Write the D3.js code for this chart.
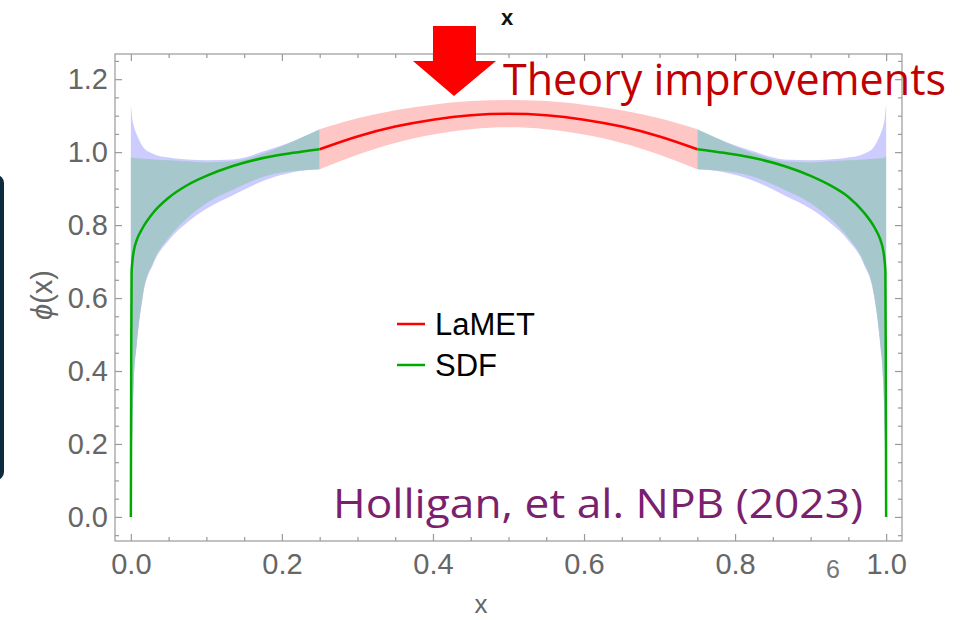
<!DOCTYPE html>
<html><head><meta charset="utf-8">
<script src="https://cdn.jsdelivr.net/npm/d3@7"></script>
<style>html,body{margin:0;padding:0;background:#fff;overflow:hidden}</style>
</head><body>
<svg id="chart" width="960" height="620"></svg>
<script>
// ---------- data ----------
const xTickValues = [0, 0.2, 0.4, 0.6, 0.8, 1.0];
const xTickLabels = ["0.0", "0.2", "0.4", "0.6", "0.8", "1.0"];
const yTickValues = [0, 0.2, 0.4, 0.6, 0.8, 1.0, 1.2];
const yTickLabels = ["0.0", "0.2", "0.4", "0.6", "0.8", "1.0", "1.2"];
const xMinorTicks = [0.05,0.1,0.15,0.25,0.3,0.35,0.45,0.5,0.55,0.65,0.7,0.75,0.85,0.9,0.95];
const yMinorTicks = [-0.05,0.05,0.1,0.15,0.25,0.3,0.35,0.45,0.5,0.55,0.65,0.7,0.75,0.85,0.9,0.95,1.05,1.1,1.15,1.25];

// LaMET (central region)
const lametX  = [0.25, 0.30, 0.35, 0.40, 0.45, 0.50, 0.55, 0.60, 0.65, 0.70, 0.75];
const lametY  = [1.008, 1.043, 1.070, 1.089, 1.101, 1.105, 1.101, 1.089, 1.070, 1.043, 1.008];
const lametHi = [1.063, 1.093, 1.115, 1.130, 1.140, 1.143, 1.140, 1.130, 1.115, 1.093, 1.063];
const lametLo = [0.953, 0.993, 1.025, 1.048, 1.063, 1.068, 1.063, 1.048, 1.025, 0.993, 0.953];

// SDF, left end-point region
const sdfLX = [0, 0.0005, 0.001, 0.002, 0.004, 0.008, 0.015, 0.03, 0.05, 0.075, 0.1, 0.135, 0.18, 0.215, 0.25];
const sdfLY = [0, 0.45, 0.67, 0.70, 0.73, 0.76, 0.79, 0.835, 0.875, 0.91, 0.935, 0.962, 0.986, 0.998, 1.008];
// SDF, right end-point region
const sdfRX = [0.75, 0.785, 0.82, 0.865, 0.9, 0.925, 0.95, 0.97, 0.985, 0.992, 0.996, 0.998, 0.999, 0.9995, 1.0];
const sdfRY = [1.008, 0.998, 0.986, 0.962, 0.935, 0.910, 0.877, 0.836, 0.792, 0.762, 0.732, 0.702, 0.672, 0.45, 0];

// SDF error bands (teal = one estimate, lavender = other)
const bandLX    = [0, 0.002, 0.004, 0.0075, 0.016, 0.03, 0.05, 0.075, 0.1, 0.135, 0.18, 0.215, 0.25];
const tealLHi   = [0.985, 0.985, 0.984, 0.983, 0.982, 0.980, 0.978, 0.975, 0.972, 0.975, 1.000, 1.030, 1.063];
const tealLLo   = [0.0, 0.25, 0.38, 0.47, 0.61, 0.70, 0.765, 0.82, 0.86, 0.897, 0.935, 0.948, 0.953];
const lavLHi    = [1.13, 1.09, 1.07, 1.05, 1.015, 0.995, 0.985, 0.980, 0.978, 0.980, 1.005, 1.030, 1.060];
const lavLLo    = [0.0, 0.245, 0.375, 0.465, 0.605, 0.695, 0.758, 0.808, 0.845, 0.882, 0.925, 0.945, 0.953];

const bandRX    = [0.75, 0.785, 0.82, 0.865, 0.9, 0.925, 0.95, 0.97, 0.984, 0.9925, 0.996, 0.998, 1.0];
const tealRHi   = [1.063, 1.030, 1.000, 0.975, 0.972, 0.975, 0.978, 0.980, 0.982, 0.983, 0.984, 0.985, 0.989];
const tealRLo   = [0.953, 0.948, 0.935, 0.897, 0.86, 0.82, 0.765, 0.70, 0.61, 0.47, 0.38, 0.25, 0.0];
const lavRHi    = [1.060, 1.030, 1.005, 0.980, 0.978, 0.980, 0.985, 0.995, 1.015, 1.05, 1.07, 1.09, 1.133];
const lavRLo    = [0.953, 0.945, 0.925, 0.882, 0.845, 0.808, 0.758, 0.695, 0.605, 0.465, 0.375, 0.245, 0.0];

const legendItems = [{name: "LaMET", color: "#ff0000"}, {name: "SDF", color: "#00aa00"}];

// ---------- drawing ----------
const svg = d3.select("#chart");
const L = 115, R = 902, T = 54, B = 541;
const x = d3.scaleLinear().domain([-0.021, 1.021]).range([L, R]);
const y = d3.scaleLinear().domain([-0.066, 1.269]).range([B, T]);
const gray = "#999", labelGray = "#666";
const tickFont = "'Liberation Sans', Arial, sans-serif";

// left dark panel edge
svg.append("rect").attr("x", -20).attr("y", 175).attr("width", 24).attr("height", 305)
  .attr("rx", 8).attr("fill", "#0e2b3d");

function zipArea(xs, lo, hi) { return xs.map((d, i) => ({x: d, lo: lo[i], hi: hi[i]})); }
const area = d3.area().x(d => x(d.x)).y0(d => y(d.lo)).y1(d => y(d.hi)).curve(d3.curveMonotoneX);
const line = d3.line().x(d => x(d[0])).y(d => y(d[1])).curve(d3.curveMonotoneX);

const plot = svg.append("g");
plot.append("path").datum(zipArea(bandLX, lavLLo, lavLHi)).attr("d", area).attr("fill", "#ccccff");
plot.append("path").datum(zipArea(bandRX, lavRLo, lavRHi)).attr("d", area).attr("fill", "#ccccff");
plot.append("path").datum(zipArea(bandLX, tealLLo, tealLHi)).attr("d", area).attr("fill", "#a6c8cd");
plot.append("path").datum(zipArea(bandRX, tealRLo, tealRHi)).attr("d", area).attr("fill", "#a6c8cd");
plot.append("path").datum(zipArea(lametX, lametLo, lametHi)).attr("d", area).attr("fill", "#ffc6c6");

plot.append("path").datum(lametX.map((d, i) => [d, lametY[i]])).attr("d", line)
  .attr("fill", "none").attr("stroke", "#ff0000").attr("stroke-width", 2.5);
plot.append("path").datum(sdfLX.map((d, i) => [d, sdfLY[i]])).attr("d", line)
  .attr("fill", "none").attr("stroke", "#00aa00").attr("stroke-width", 2.5);
plot.append("path").datum(sdfRX.map((d, i) => [d, sdfRY[i]])).attr("d", line)
  .attr("fill", "none").attr("stroke", "#00aa00").attr("stroke-width", 2.5);

// frame
svg.append("rect").attr("x", L).attr("y", T).attr("width", R - L).attr("height", B - T)
  .attr("fill", "none").attr("stroke", gray).attr("stroke-width", 1.2);

function styleAxis(g) {
  g.select(".domain").remove();
  g.selectAll("line").attr("stroke", gray).attr("stroke-width", 1.2);
  g.selectAll("text").attr("fill", labelGray).attr("font-family", tickFont).attr("font-size", 29);
}
// bottom
svg.append("g").attr("transform", `translate(0,${B})`)
  .call(d3.axisBottom(x).tickValues(xTickValues).tickSize(-7).tickPadding(12).tickFormat((d, i) => xTickLabels[i]))
  .call(styleAxis);
svg.append("g").attr("transform", `translate(0,${B})`)
  .call(d3.axisBottom(x).tickValues(xMinorTicks).tickSize(-4).tickFormat(""))
  .call(styleAxis);
// top
svg.append("g").attr("transform", `translate(0,${T})`)
  .call(d3.axisTop(x).tickValues(xTickValues).tickSize(-7).tickFormat(""))
  .call(styleAxis);
svg.append("g").attr("transform", `translate(0,${T})`)
  .call(d3.axisTop(x).tickValues(xMinorTicks).tickSize(-4).tickFormat(""))
  .call(styleAxis);
// left
svg.append("g").attr("transform", `translate(${L},0)`)
  .call(d3.axisLeft(y).tickValues(yTickValues).tickSize(-7).tickPadding(7).tickFormat((d, i) => yTickLabels[i]))
  .call(styleAxis);
svg.append("g").attr("transform", `translate(${L},0)`)
  .call(d3.axisLeft(y).tickValues(yMinorTicks).tickSize(-4).tickFormat(""))
  .call(styleAxis);
// right
svg.append("g").attr("transform", `translate(${R},0)`)
  .call(d3.axisRight(y).tickValues(yTickValues).tickSize(-7).tickFormat(""))
  .call(styleAxis);
svg.append("g").attr("transform", `translate(${R},0)`)
  .call(d3.axisRight(y).tickValues(yMinorTicks).tickSize(-4).tickFormat(""))
  .call(styleAxis);

// axis labels
svg.append("text").attr("x", 481).attr("y", 613).attr("text-anchor", "middle")
  .attr("font-family", tickFont).attr("font-size", 26).attr("fill", labelGray).text("x");
svg.append("text").attr("transform", "translate(52,295) rotate(-90)").attr("text-anchor", "middle")
  .attr("font-family", tickFont).attr("font-size", 29).attr("fill", labelGray)
  .html('<tspan font-style="italic">ϕ</tspan>(x)');

// title "x"
svg.append("text").attr("x", 507).attr("y", 25).attr("text-anchor", "middle")
  .attr("font-family", tickFont).attr("font-weight", "bold").attr("font-size", 22).attr("fill", "#111").text("x");

// legend
const leg = svg.append("g");
legendItems.forEach((it, i) => {
  const yy = 324 + i * 41;
  leg.append("line").attr("x1", 397).attr("x2", 425).attr("y1", yy).attr("y2", yy)
    .attr("stroke", it.color).attr("stroke-width", 2.5);
  leg.append("text").attr("x", 435).attr("y", yy + 11).attr("font-family", tickFont)
    .attr("font-size", 31).attr("fill", "#000").text(it.name);
});

// big red arrow
const ax = 454;
svg.append("path")
  .attr("d", `M${ax-21},26 L${ax+22},26 L${ax+22},61 L${ax+42},61 L${ax},96 L${ax-41},61 L${ax-21},61 Z`)
  .attr("fill", "#ff0000");

// annotations
svg.append("text").attr("x", 503).attr("y", 95).attr("font-family", "'Open Sans', 'Noto Sans', sans-serif")
  .attr("font-size", 43).attr("fill", "#c00000").attr("textLength", 443).attr("lengthAdjust", "spacingAndGlyphs")
  .text("Theory improvements");
svg.append("text").attr("x", 333).attr("y", 518).attr("font-family", "'Open Sans', 'Noto Sans', sans-serif")
  .attr("font-size", 41).attr("fill", "#7b1f6f").attr("textLength", 530).attr("lengthAdjust", "spacingAndGlyphs")
  .text("Holligan, et al. NPB (2023)");
svg.append("text").attr("x", 833).attr("y", 578).attr("text-anchor", "middle").attr("font-family", tickFont)
  .attr("font-size", 25).attr("fill", "#777").text("6");
</script>
</body></html>
